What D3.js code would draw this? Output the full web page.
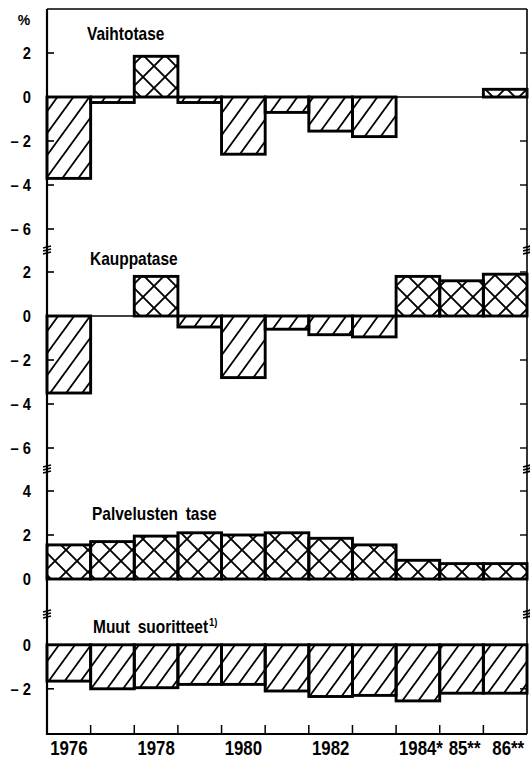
<!DOCTYPE html>
<html>
<head>
<meta charset="utf-8">
<script src="https://cdn.jsdelivr.net/npm/d3@7"></script>
<style>
  body { margin: 0; background: #fff; }
  text { font-family: "Liberation Sans", Arial, sans-serif; font-weight: bold; fill: #000; }
</style>
</head>
<body>
<svg id="svg1" width="530" height="759"></svg>
<script>
// data
var years = ['1976','1977','1978','1979','1980','1981','1982','1983','1984','1985','1986'];
var yearLabels = ['1976','','1978','','1980','','1982','','1984*','85**','86**'];
var vaihtotase = [-3.7, -0.25, 1.85, -0.25, -2.6, -0.7, -1.55, -1.8, 0, 0, 0.35];
var kauppatase = [-3.5, 0, 1.8, -0.5, -2.8, -0.6, -0.85, -0.95, 1.8, 1.6, 1.9];
var palvelut = [1.55, 1.7, 1.95, 2.1, 2.0, 2.1, 1.85, 1.55, 0.85, 0.7, 0.7];
var muut = [-1.65, -2.0, -1.95, -1.8, -1.8, -2.1, -2.35, -2.3, -2.55, -2.2, -2.2];

var titles = ['Vaihtotase', 'Kauppatase', 'Palvelusten tase', 'Muut suoritteet'];
var ticks1 = [2, 0, -2, -4, -6];
var ticks2 = [2, 0, -2, -4, -6];
var ticks3 = [4, 2, 0];
var ticks4 = [0, -2];

var svg = d3.select('svg');

var left = 47, right = 527, axisBottom = 734;

var x = d3.scaleBand()
    .domain(years)
    .range([left, right])
    .padding(0);

// condensed look: squeeze text horizontally
function squeeze(px, py, s) {
    return 'translate(' + px + ',' + py + ') scale(' + s + ',1)';
}

// patterns
var defs = svg.append('defs');
var hatch = defs.append('pattern')
    .attr('id', 'hatch')
    .attr('patternUnits', 'userSpaceOnUse')
    .attr('width', 16)
    .attr('height', 22);
hatch.append('path')
    .attr('d', 'M0,22 L16,0 M-4,5.5 L4,-5.5 M12,27.5 L20,16.5')
    .attr('stroke', '#000')
    .attr('stroke-width', 1.8);

var cross = defs.append('pattern')
    .attr('id', 'cross')
    .attr('patternUnits', 'userSpaceOnUse')
    .attr('width', 22)
    .attr('height', 22);
cross.append('path')
    .attr('d', 'M0,0 L22,22 M0,22 L22,0')
    .attr('stroke', '#000')
    .attr('stroke-width', 1.9);

// panels: top pixel, domain max, domain min
var panels = [
    {top: 9,   hi: 4,   lo: -6.95, data: vaihtotase, ticks: ticks1, title: titles[0], tx: 87, ty: 40},
    {top: 250, hi: 3,   lo: -6.95, data: kauppatase, ticks: ticks2, title: titles[1], tx: 90, ty: 265},
    {top: 469, hi: 5,   lo: -1.6,  data: palvelut,   ticks: ticks3, title: titles[2], tx: 92, ty: 520},
    {top: 614, hi: 1.4, lo: -4.05, data: muut,       ticks: ticks4, title: titles[3], tx: 93, ty: 633}
];

var pxPerUnit = 22;

panels.forEach(function(p, i){
    var bottom = p.top + (p.hi - p.lo) * pxPerUnit;
    var y = d3.scaleLinear().domain([p.lo, p.hi]).range([bottom, p.top]);
    var g = svg.append('g');

    // zero line
    g.append('line')
        .attr('x1', left).attr('x2', right)
        .attr('y1', y(0)).attr('y2', y(0))
        .attr('stroke', '#000')
        .attr('stroke-width', 1.5);

    // bars
    g.selectAll('rect.bar')
        .data(p.data.map(function(v, j){ return {year: years[j], v: v}; })
            .filter(function(d){ return d.v !== 0; }))
        .enter()
        .append('rect')
        .attr('class', 'bar')
        .attr('x', function(d){ return x(d.year); })
        .attr('width', x.bandwidth())
        .attr('y', function(d){ return Math.min(y(0), y(d.v)); })
        .attr('height', function(d){ return Math.abs(y(d.v) - y(0)); })
        .attr('fill', function(d){ return d.v < 0 ? 'url(#hatch)' : 'url(#cross)'; })
        .attr('stroke', '#000')
        .attr('stroke-width', 2.9);

    // left ticks + labels
    g.selectAll('line.lt')
        .data(p.ticks)
        .enter()
        .append('line')
        .attr('x1', left).attr('x2', left + 7)
        .attr('y1', function(d){ return y(d); })
        .attr('y2', function(d){ return y(d); })
        .attr('stroke', '#000')
        .attr('stroke-width', 1.6);

    g.selectAll('line.rt')
        .data(p.ticks)
        .enter()
        .append('line')
        .attr('x1', right).attr('x2', right - 7)
        .attr('y1', function(d){ return y(d); })
        .attr('y2', function(d){ return y(d); })
        .attr('stroke', '#000')
        .attr('stroke-width', 1.4);

    g.selectAll('text.tl')
        .data(p.ticks)
        .enter()
        .append('text')
        .attr('transform', function(d){ return squeeze(31, y(d) + 6, 0.92); })
        .attr('text-anchor', 'end')
        .attr('font-size', 16)
        .text(function(d){ return d < 0 ? '\u2013 ' + Math.abs(d) : d; });

    // title
    var t = g.append('text')
        .attr('transform', squeeze(p.tx, p.ty, 0.86))
        .attr('font-size', 18)
        .attr('word-spacing', 4)
        .text(p.title);
    if (i === 3) {
        t.append('tspan')
            .attr('font-size', 11)
            .attr('dy', -7)
            .attr('dx', 1)
            .text('1)');
    }

    // break marks between panels
    if (i > 0) {
        [left, right].forEach(function(bx){
            for (var k = -1; k <= 1; k++) {
                g.append('line')
                    .attr('x1', bx - 4).attr('x2', bx + 4)
                    .attr('y1', p.top + k * 3 + 1).attr('y2', p.top + k * 3 - 1)
                    .attr('stroke', '#000')
                    .attr('stroke-width', 1.8);
            }
        });
    }
});

// frame
svg.append('line')
    .attr('x1', left).attr('x2', right)
    .attr('y1', 9).attr('y2', 9)
    .attr('stroke', '#000').attr('stroke-width', 1.4);
svg.append('line')
    .attr('x1', right).attr('x2', right)
    .attr('y1', 9).attr('y2', axisBottom)
    .attr('stroke', '#000').attr('stroke-width', 1.6);
svg.append('line')
    .attr('x1', left).attr('x2', left)
    .attr('y1', 9).attr('y2', axisBottom + 1)
    .attr('stroke', '#000').attr('stroke-width', 2.2);
svg.append('line')
    .attr('x1', left).attr('x2', right)
    .attr('y1', axisBottom).attr('y2', axisBottom)
    .attr('stroke', '#000').attr('stroke-width', 2);

// bottom ticks at bar boundaries
svg.selectAll('line.xt')
    .data(years.slice(1))
    .enter()
    .append('line')
    .attr('x1', function(d){ return x(d); })
    .attr('x2', function(d){ return x(d); })
    .attr('y1', axisBottom).attr('y2', axisBottom - 9)
    .attr('stroke', '#000').attr('stroke-width', 1.5);

svg.selectAll('text.xl')
    .data(years)
    .enter()
    .append('text')
    .attr('transform', function(d, i){
        var shift = yearLabels[i].indexOf('*') >= 0 ? 3 : 0;
        return squeeze(x(d) + x.bandwidth() / 2 + shift, 755, 0.8);
    })
    .attr('text-anchor', 'middle')
    .attr('font-size', 21)
    .text(function(d, i){ return yearLabels[i]; });

svg.append('text')
    .attr('x', 24)
    .attr('y', 25)
    .attr('text-anchor', 'middle')
    .attr('font-size', 14)
    .text('%');
</script>
</body>
</html>
